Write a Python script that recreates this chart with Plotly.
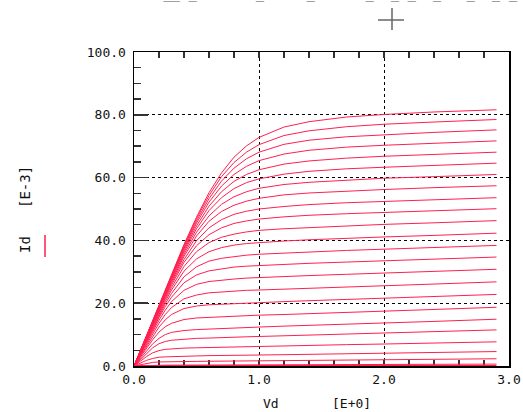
import plotly.graph_objects as go

# Drain voltage sweep (V)
vd = [0, 0.05, 0.1, 0.15, 0.2, 0.25, 0.3, 0.4, 0.5, 0.6, 0.7, 0.8, 0.9, 1.0,
      1.2, 1.4, 1.7, 2.0, 2.4, 2.9]

# Drain current curves (mA, i.e. E-3), one per gate step, top to bottom
id_01 = [0, 4.9, 9.8, 14.7, 19.5, 24.4, 29.3, 38.7, 47.4, 55.2, 61.5, 66.5, 70.1, 72.8, 76.1, 77.8, 79.3, 80.1, 80.9, 81.6]
id_02 = [0, 4.8, 9.7, 14.5, 19.4, 24.2, 29.0, 38.3, 46.9, 54.3, 60.3, 64.8, 68.1, 70.5, 73.4, 74.9, 76.2, 77.0, 77.7, 78.5]
id_03 = [0, 4.8, 9.6, 14.4, 19.2, 24.0, 28.8, 37.9, 46.2, 53.3, 58.9, 63.0, 66.0, 68.1, 70.6, 71.9, 73.0, 73.7, 74.4, 75.2]
id_04 = [0, 4.8, 9.5, 14.3, 19.1, 23.8, 28.5, 37.4, 45.5, 52.2, 57.3, 61.0, 63.6, 65.4, 67.5, 68.7, 69.7, 70.3, 71.0, 71.7]
id_05 = [0, 4.7, 9.4, 14.2, 18.9, 23.5, 28.2, 36.9, 44.6, 50.9, 55.5, 58.8, 61.0, 62.5, 64.3, 65.3, 66.2, 66.8, 67.4, 68.1]
id_06 = [0, 4.7, 9.3, 14.0, 18.7, 23.3, 27.8, 36.3, 43.7, 49.5, 53.6, 56.5, 58.4, 59.6, 61.1, 62.0, 62.8, 63.3, 63.9, 64.6]
id_07 = [0, 4.6, 9.2, 13.8, 18.4, 22.9, 27.4, 35.6, 42.6, 47.8, 51.5, 53.9, 55.5, 56.6, 57.8, 58.5, 59.2, 59.8, 60.3, 61.0]
id_08 = [0, 4.5, 9.1, 13.6, 18.1, 22.6, 26.9, 34.9, 41.4, 46.1, 49.2, 51.2, 52.5, 53.4, 54.5, 55.1, 55.7, 56.2, 56.8, 57.4]
id_09 = [0, 4.5, 8.9, 13.4, 17.8, 22.2, 26.4, 33.9, 39.9, 44.0, 46.6, 48.3, 49.3, 50.0, 50.8, 51.4, 52.0, 52.4, 53.0, 53.6]
id_10 = [0, 4.4, 8.8, 13.1, 17.5, 21.7, 25.8, 33.0, 38.3, 41.8, 44.0, 45.4, 46.2, 46.8, 47.5, 48.0, 48.5, 48.9, 49.5, 50.1]
id_11 = [0, 4.3, 8.6, 12.8, 17.1, 21.2, 25.0, 31.7, 36.4, 39.3, 41.0, 42.0, 42.7, 43.2, 43.7, 44.1, 44.6, 45.1, 45.6, 46.3]
id_12 = [0, 4.2, 8.3, 12.5, 16.6, 20.5, 24.2, 30.2, 34.1, 36.4, 37.7, 38.5, 39.0, 39.3, 39.8, 40.2, 40.7, 41.1, 41.6, 42.3]
id_13 = [0, 4.0, 8.1, 12.1, 16.0, 19.8, 23.1, 28.4, 31.6, 33.4, 34.3, 34.9, 35.3, 35.6, 36.0, 36.3, 36.8, 37.2, 37.7, 38.4]
id_14 = [0, 3.9, 7.8, 11.6, 15.4, 18.9, 21.9, 26.5, 29.0, 30.3, 31.0, 31.5, 31.8, 32.0, 32.4, 32.7, 33.1, 33.5, 34.0, 34.7]
id_15 = [0, 3.7, 7.4, 11.1, 14.6, 17.8, 20.5, 24.1, 26.0, 26.9, 27.4, 27.7, 28.0, 28.2, 28.5, 28.8, 29.2, 29.6, 30.1, 30.8]
id_16 = [0, 3.5, 7.0, 10.4, 13.6, 16.4, 18.6, 21.4, 22.6, 23.3, 23.6, 23.9, 24.1, 24.2, 24.5, 24.8, 25.2, 25.6, 26.1, 26.8]
id_17 = [0, 3.2, 6.4, 9.5, 12.4, 14.7, 16.4, 18.3, 19.1, 19.5, 19.7, 19.9, 20.1, 20.3, 20.5, 20.8, 21.2, 21.6, 22.1, 22.8]
id_18 = [0, 2.9, 5.7, 8.4, 10.8, 12.5, 13.6, 14.8, 15.3, 15.5, 15.7, 15.9, 16.0, 16.2, 16.4, 16.7, 17.1, 17.5, 18.0, 18.7]
id_19 = [0, 2.4, 4.8, 7.1, 8.8, 10.0, 10.7, 11.3, 11.6, 11.8, 12.0, 12.1, 12.3, 12.4, 12.7, 12.9, 13.3, 13.7, 14.2, 14.9]
id_20 = [0, 2.0, 4.0, 5.8, 7.1, 7.8, 8.2, 8.6, 8.8, 8.9, 9.1, 9.2, 9.3, 9.4, 9.6, 9.8, 10.2, 10.5, 10.9, 11.5]
id_21 = [0, 1.5, 3.0, 4.2, 4.9, 5.3, 5.5, 5.7, 5.8, 5.9, 6.0, 6.0, 6.1, 6.2, 6.4, 6.5, 6.8, 7.0, 7.3, 7.7]
id_22 = [0, 0.9, 1.8, 2.4, 2.8, 2.9, 3.0, 3.1, 3.2, 3.3, 3.3, 3.4, 3.4, 3.5, 3.6, 3.7, 3.9, 4.1, 4.3, 4.6]
id_23 = [0, 0.45, 0.87, 1.15, 1.29, 1.35, 1.39, 1.43, 1.47, 1.51, 1.54, 1.58, 1.61, 1.65, 1.72, 1.79, 1.9, 2.0, 2.14, 2.31]
id_24 = [0, 0.09, 0.18, 0.23, 0.26, 0.27, 0.28, 0.30, 0.31, 0.32, 0.33, 0.35, 0.36, 0.37, 0.39, 0.42, 0.45, 0.49, 0.54, 0.6]
id_25 = [0] * 20

curves = [id_01, id_02, id_03, id_04, id_05, id_06, id_07, id_08, id_09, id_10,
          id_11, id_12, id_13, id_14, id_15, id_16, id_17, id_18, id_19, id_20,
          id_21, id_22, id_23, id_24, id_25]

x_tickvals = [0, 1, 2, 3]
x_ticktext = ["0.0", "1.0", "2.0", "3.0"]
y_tickvals = [0, 20, 40, 60, 80, 100]
y_ticktext = ["0.0", "20.0", "40.0", "60.0", "80.0", "100.0"]

LINE = "#ff1f4f"
MONO = "DejaVu Sans Mono"
TICKC = "#333333"

fig = go.Figure()
for i, c in enumerate(curves):
    w = 2 if i == len(curves) - 1 else 1
    fig.add_trace(go.Scatter(x=vd, y=c, mode="lines",
                             line=dict(color=LINE, width=w),
                             hoverinfo="skip", showlegend=False))

axis_common = dict(
    showgrid=True, gridcolor="black", gridwidth=1, griddash="3px,3px",
    showline=True, linecolor="black", linewidth=1.5,
    ticks="inside", tickcolor=TICKC, tickwidth=1.5, zeroline=False,
    automargin=False, layer="below traces",
    tickfont=dict(family=MONO, size=13, color="#111111"),
)

fig.update_xaxes(range=[0, 3], tickvals=x_tickvals, ticktext=x_ticktext,
                 ticklen=1, ticklabelstandoff=1, mirror="allticks",
                 minor=dict(dtick=0.2, ticks="inside", ticklen=6,
                            tickcolor=TICKC, tickwidth=1.5, showgrid=False),
                 **axis_common)
fig.update_yaxes(range=[0, 100], tickvals=y_tickvals, ticktext=y_ticktext,
                 ticklen=14, ticklabelstandoff=4, mirror=True,
                 minor=dict(dtick=5, ticks="inside", ticklen=7,
                            tickcolor=TICKC, tickwidth=1.5, showgrid=False),
                 **axis_common)

# plot area in pixels: x 134..509, y 52..366
def px(x):
    return (x - 134) / 375.0

def py(y):
    return (366 - y) / 314.0

lab = dict(xref="paper", yref="paper", showarrow=False,
           xanchor="center", yanchor="middle")

annotations = [
    dict(text="Vd", x=px(271), y=py(403),
         font=dict(family=MONO, size=13, color="#111111"), **lab),
    dict(text="[E+0]", x=px(351), y=py(403),
         font=dict(family=MONO, size=13, color="#111111"), **lab),
    dict(text="Id", x=px(25), y=py(245), textangle=-90,
         font=dict(family=MONO, size=14, color="#111111"), **lab),
    dict(text="[E-3]", x=px(25), y=py(187), textangle=-90,
         font=dict(family=MONO, size=14, color="#111111"), **lab),
    dict(text="Plot VdsidId__V_IdsatVd_Idmod_VdsIds_Id_V_Id_Vds_Id_V_d",
         x=px(60), y=py(4), xref="paper", yref="paper", xanchor="left",
         yanchor="bottom", showarrow=False,
         font=dict(family=MONO, size=14, color="#555555")),
]

shapes = [
    dict(type="line", xref="paper", yref="paper", x0=px(45), x1=px(45),
         y0=py(235), y1=py(257), line=dict(color=LINE, width=1.5)),
    dict(type="line", xref="paper", yref="paper", x0=px(378), x1=px(404),
         y0=py(20), y1=py(20), line=dict(color="#666666", width=1.5)),
    dict(type="line", xref="paper", yref="paper", x0=px(392), x1=px(392),
         y0=py(8), y1=py(30), line=dict(color="#666666", width=1.5)),
]

fig.update_layout(
    width=523, height=412,
    margin=dict(l=134, r=14, t=52, b=46, autoexpand=False),
    plot_bgcolor="white", paper_bgcolor="white",
    showlegend=False, hovermode=False,
    annotations=annotations, shapes=shapes,
)

fig.write_html(
    "out.html",
    config={"displayModeBar": False, "staticPlot": True},
    post_script="document.body.style.margin='0px';"
                "document.body.style.overflow='hidden';",
)
